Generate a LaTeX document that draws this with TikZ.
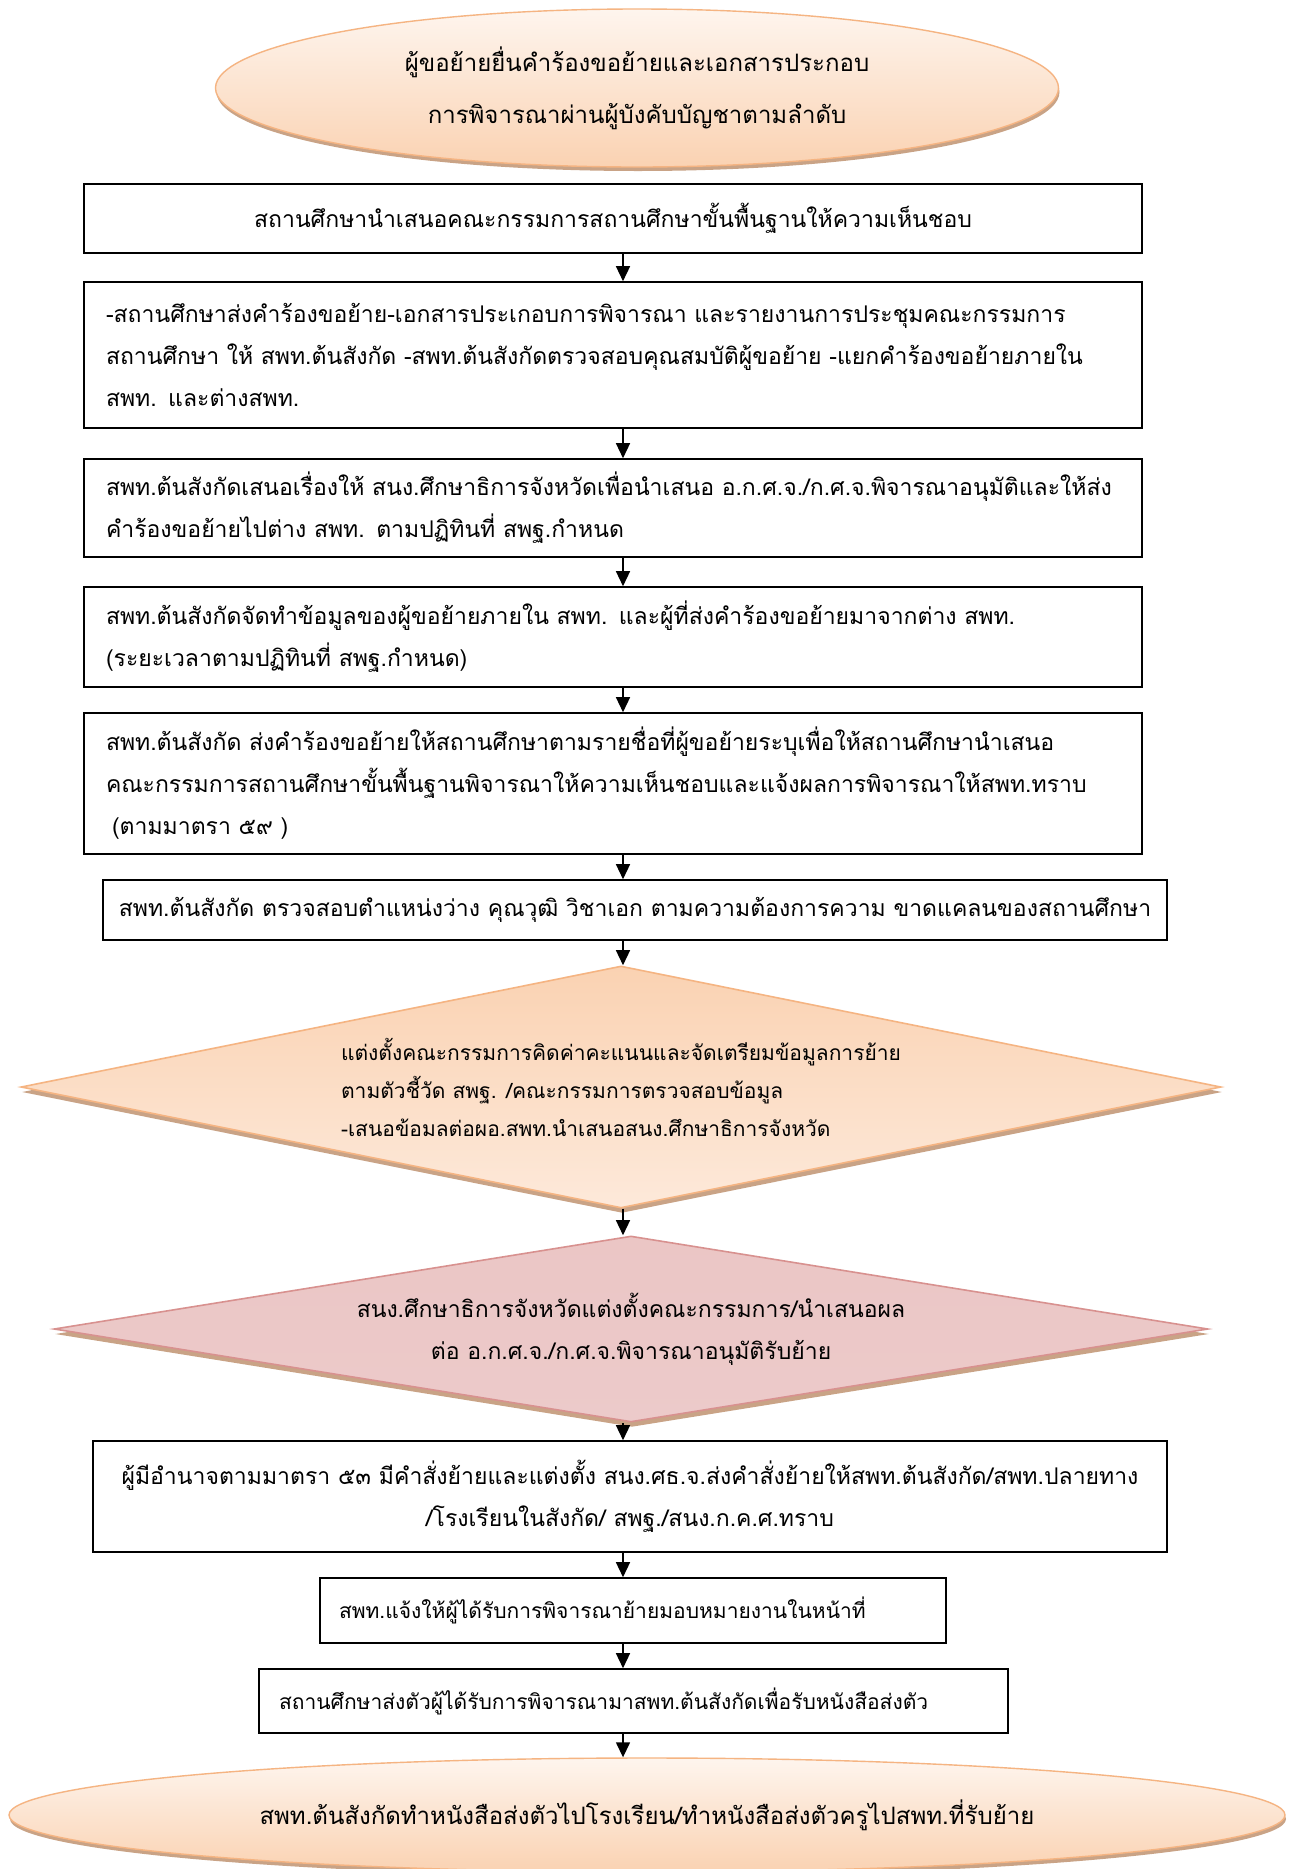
\documentclass[tikz,border=0pt]{standalone}
\usepackage{fontspec}
\newfontfamily\thai[Script=Thai]{Loma}
\usetikzlibrary{shapes.geometric,shadows,arrows.meta}
\definecolor{peachT}{HTML}{FEF5EE}
\definecolor{peachM}{HTML}{FDE9DA}
\definecolor{peachB}{HTML}{FAD2B2}
\definecolor{peachD}{HTML}{F5B482}
\definecolor{pinkT}{HTML}{EBC6C5}
\definecolor{pinkM}{HTML}{F4E2E2}
\definecolor{pinkB}{HTML}{ECCACA}
\definecolor{pinkD}{HTML}{D8918F}
\definecolor{shadowc}{HTML}{C9A386}
\newcommand\tf{\thai\fontsize{23}{42}\selectfont}
\newcommand\tfs{\thai\fontsize{21}{38}\selectfont}
\newcommand\tfl{\thai\fontsize{24}{42}\selectfont}
\begin{document}
\begin{tikzpicture}[x=1pt,y=-1pt,
  box/.style={draw=black, line width=1.6pt, rectangle, inner sep=0pt, font=\tf, fill=white},
  lbox/.style={box, align=left},
  cbox/.style={box, align=center},
  oval/.style={ellipse, draw=peachD, line width=1.4pt, inner sep=0pt, font=\tfl, align=center,
    top color=peachT, bottom color=peachB,
    drop shadow={shadow xshift=1pt, shadow yshift=-4pt, fill=shadowc, opacity=1}},
  dia/.style={diamond, line width=1.6pt, inner sep=0pt, font=\tf,
    drop shadow={shadow xshift=1pt, shadow yshift=-5pt, fill=shadowc, opacity=1}},
  arr/.style={line width=1.4pt, -{Triangle[length=15pt,width=14pt]}}]
\useasboundingbox (0,0) rectangle (1288,1869);
\fill[white] (0,0) rectangle (1288,1869);
\coordinate (ax) at (623,0);

\node[oval, minimum width=843pt, minimum height=158pt] (e1) at (637,88)
  {ผู้ขอย้ายยื่นคำร้องขอย้ายและเอกสารประกอบ\\[10pt]การพิจารณาผ่านผู้บังคับบัญชาตามลำดับ};

\node[cbox, minimum width=1058pt, minimum height=69pt] (b1) at (613,218.5)
  {สถานศึกษานำเสนอคณะกรรมการสถานศึกษาขั้นพื้นฐานให้ความเห็นชอบ};

\node[lbox, minimum width=1058pt, minimum height=146pt, text width=1014pt] (b2) at (613,355)
  {\mbox{-สถานศึกษาส่งคำร้องขอย้าย-เอกสารประเกอบการพิจารณา และรายงานการประชุมคณะกรรมการ}\\
   \mbox{สถานศึกษา ให้ สพท.ต้นสังกัด -สพท.ต้นสังกัดตรวจสอบคุณสมบัติผู้ขอย้าย -แยกคำร้องขอย้ายภายใน}\\
   \mbox{สพท. และต่างสพท.}};

\node[lbox, minimum width=1058pt, minimum height=98pt, text width=1014pt] (b3) at (613,508)
  {\mbox{สพท.ต้นสังกัดเสนอเรื่องให้ สนง.ศึกษาธิการจังหวัดเพื่อนำเสนอ อ.ก.ศ.จ./ก.ศ.จ.พิจารณาอนุมัติและให้ส่ง}\\
   \mbox{คำร้องขอย้ายไปต่าง สพท. ตามปฏิทินที่ สพฐ.กำหนด}};

\node[lbox, minimum width=1058pt, minimum height=100pt, text width=1014pt] (b4) at (613,637)
  {\mbox{สพท.ต้นสังกัดจัดทำข้อมูลของผู้ขอย้ายภายใน สพท. และผู้ที่ส่งคำร้องขอย้ายมาจากต่าง สพท.}\\
   \mbox{(ระยะเวลาตามปฏิทินที่ สพฐ.กำหนด)}};

\node[lbox, minimum width=1058pt, minimum height=141pt, text width=1014pt] (b5) at (613,783.5)
  {\mbox{สพท.ต้นสังกัด ส่งคำร้องขอย้ายให้สถานศึกษาตามรายชื่อที่ผู้ขอย้ายระบุเพื่อให้สถานศึกษานำเสนอ}\\
   \mbox{คณะกรรมการสถานศึกษาขั้นพื้นฐานพิจารณาให้ความเห็นชอบและแจ้งผลการพิจารณาให้สพท.ทราบ}\\
   \mbox{\hspace{6pt}(ตามมาตรา ๕๙ )}};

\node[cbox, minimum width=1064pt, minimum height=60pt] (b6) at (635,910)
  {สพท.ต้นสังกัด ตรวจสอบตำแหน่งว่าง คุณวุฒิ วิชาเอก ตามความต้องการความ ขาดแคลนของสถานศึกษา};

\node[dia, draw=peachD, top color=peachB, middle color=peachT, bottom color=peachM, font=\tfs,
      minimum width=1200pt, minimum height=242pt, aspect=4.96, align=left] (d1) at (621,1087)
  {แต่งตั้งคณะกรรมการคิดค่าคะแนนและจัดเตรียมข้อมูลการย้าย\\
   ตามตัวชี้วัด สพฐ. /คณะกรรมการตรวจสอบข้อมูล\\
   -เสนอข้อมลต่อผอ.สพท.นำเสนอสนง.ศึกษาธิการจังหวัด};

\node[dia, draw=pinkD, top color=pinkT, middle color=pinkM, bottom color=pinkB,
      minimum width=1154pt, minimum height=186pt, aspect=6.2, align=center] (d2) at (631,1329)
  {สนง.ศึกษาธิการจังหวัดแต่งตั้งคณะกรรมการ/นำเสนอผล\\
   ต่อ อ.ก.ศ.จ./ก.ศ.จ.พิจารณาอนุมัติรับย้าย};

\node[cbox, minimum width=1074pt, minimum height=111pt] (b7) at (630,1496.5)
  {ผู้มีอำนาจตามมาตรา ๕๓ มีคำสั่งย้ายและแต่งตั้ง สนง.ศธ.จ.ส่งคำสั่งย้ายให้สพท.ต้นสังกัด/สพท.ปลายทาง\\
   /โรงเรียนในสังกัด/ สพฐ./สนง.ก.ค.ศ.ทราบ};

\node[lbox, font=\tfs, minimum width=626pt, minimum height=65pt, text width=588pt] (b8) at (633,1610.5)
  {\mbox{สพท.แจ้งให้ผู้ได้รับการพิจารณาย้ายมอบหมายงานในหน้าที่}};

\node[lbox, font=\tfs, minimum width=749pt, minimum height=64pt, text width=709pt] (b9) at (633.5,1701)
  {\mbox{สถานศึกษาส่งตัวผู้ได้รับการพิจารณามาสพท.ต้นสังกัดเพื่อรับหนังสือส่งตัว}};

\node[oval, minimum width=1276pt, minimum height=114pt] (e2) at (647,1815)
  {สพท.ต้นสังกัดทำหนังสือส่งตัวไปโรงเรียน/ทำหนังสือส่งตัวครูไปสพท.ที่รับย้าย};

\draw[arr] (b1.south -| ax) -- (b2.north -| ax);
\draw[arr] (b2.south -| ax) -- (b3.north -| ax);
\draw[arr] (b3.south -| ax) -- (b4.north -| ax);
\draw[arr] (b4.south -| ax) -- (b5.north -| ax);
\draw[arr] (b5.south -| ax) -- (b6.north -| ax);
\draw[arr] (b6.south -| ax) -- (d1.north -| ax);
\draw[arr] (d1.south -| ax) -- (d2.north -| ax);
\draw[arr] (d2.south -| ax) -- (b7.north -| ax);
\draw[arr] (b7.south -| ax) -- (b8.north -| ax);
\draw[arr] (b8.south -| ax) -- (b9.north -| ax);
\draw[arr] (b9.south -| ax) -- (e2.north -| ax);
\end{tikzpicture}
\end{document}
